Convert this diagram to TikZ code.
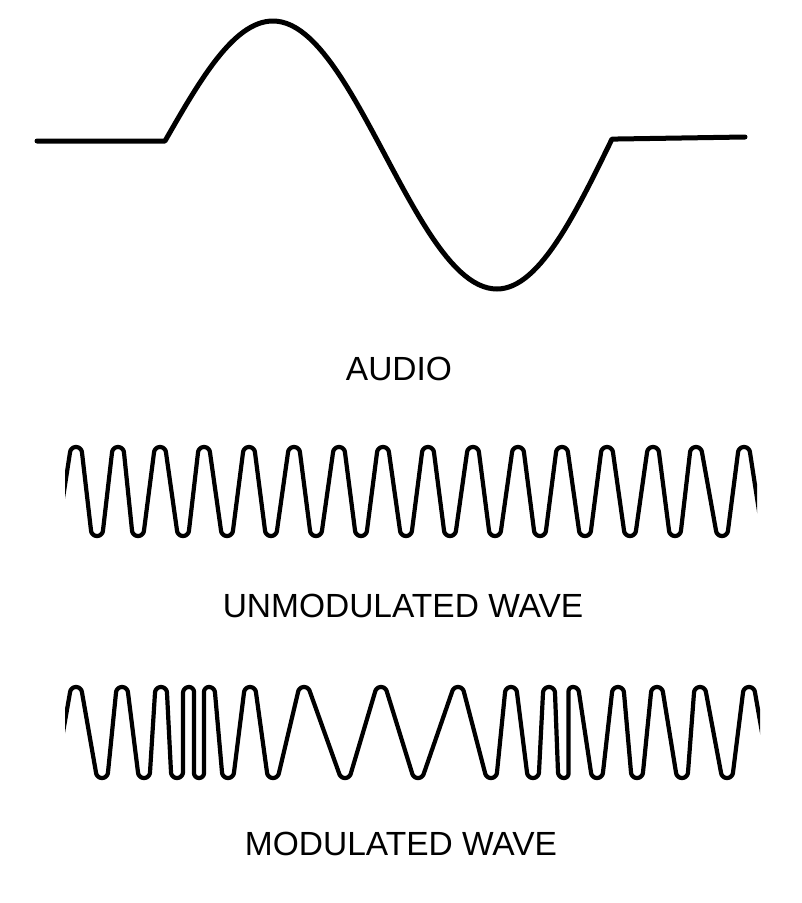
\documentclass[tikz,border=0pt]{standalone}
\usepackage{fontspec}
\setmainfont{Liberation Sans}
\usetikzlibrary{positioning, calc}

\begin{document}
\begin{tikzpicture}[x=1pt, y=-1pt,
    % Uniform look for all waveforms
    wave/.style={black, line width=4.2pt, line cap=round, line join=round},
    audio wave/.style={wave, line width=5pt},
    % Caption style
    caption/.style={font=\fontsize{33.5}{40}\selectfont, inner sep=0pt}
  ]
  \useasboundingbox (0,0) rectangle (802,903);

  % --- Largest turn radius of the carrier crests ---
  \def\Rmax{6}

  % --- One carrier: #1 = top, #2 = bottom, #3 = list of extrema pairs (starting at a trough)
  \def\carrier#1#2#3{
    \foreach \xa/\xb [count=\i] in {#3} {
      \pgfmathsetmacro\s{2*mod(\i+1,2)-1}          % +1 peak->trough, -1 trough->peak
      \pgfmathsetmacro\ya{(#1+#2)/2-\s*(#2-#1)/2}
      \pgfmathsetmacro\yb{(#1+#2)/2+\s*(#2-#1)/2}
      \pgfmathsetmacro\dx{(\xb-\xa)/2}
      \pgfmathsetmacro\R{min(\Rmax,\dx)}
      \pgfmathsetmacro\dy{\s*((#2-#1)-2*\R)/2}
      \pgfmathsetmacro\th{atan2(\dy,\dx)-\s*acos(\R/veclen(\dx,\dy))}
      \pgfmathsetmacro\aA{180+90*\s}
      \pgfmathsetmacro\tA{\th+180*(1+\s)}
      \pgfmathsetmacro\tB{\th+180}
      \pgfmathsetmacro\aB{180-90*\s}
      \draw[wave] plot[domain=\aA:\tA, samples=8, variable=\t] ({\xa+\R*cos(\t)}, {\ya+\s*\R+\R*sin(\t)})
        -- plot[domain=\tB:\aB, samples=8, variable=\t] ({\xb+\R*cos(\t)}, {\yb-\s*\R+\R*sin(\t)});
    }
  }

  % --- Audio signal (top) ---
  \def\Ya{141}   % rest level
  \draw[audio wave] (37,\Ya) -- (165,\Ya)
      -- plot[domain=0:1, samples=30, variable=\t] ({165+108*\t}, {\Ya-120*sin(90*\t)})
      -- plot[domain=0:1, samples=50, variable=\t] ({273+224*\t}, {155-134*cos(180*\t)})
      -- plot[domain=0:1, samples=30, variable=\t] ({497+115*\t}, {139+150*cos(90*\t)})
      -- (745,137);
  \node[caption] (audio) at (399,369) {AUDIO};

  % --- Unmodulated carrier ---
  \begin{scope}
    \clip (65,420) rectangle (757,560);
    \carrier{447}{536}{52/76, 76/97, 97/118, 118/138, 138/160, 160/183, 183/204,
      204/227, 227/249, 249/271, 271/294, 294/316, 316/339, 339/361, 361/383,
      383/406, 406/428, 428/450, 450/473, 473/495, 495/518, 518/540, 540/562,
      562/585, 585/607, 607/630, 630/653, 653/675, 675/696, 696/722, 722/744, 744/768}
  \end{scope}
  \node[caption] (carrier) at (403,606) {UNMODULATED WAVE};

  % --- Modulated carrier ---
  \begin{scope}
    \clip (65,660) rectangle (760,800);
    \carrier{687}{778}{50/76, 76/102, 102/122, 122/144, 144/161, 161/177, 177/189,
      189/199, 199/209, 209/228, 228/250, 250/273, 273/304, 304/345, 345/381,
      381/418, 418/458, 458/491, 491/511, 511/533, 533/549, 549/564, 564/573,
      573/597, 597/618, 618/637, 637/657, 657/682, 682/700, 700/727, 727/749, 749/775}
  \end{scope}
  \node[caption] (modulated) at (401,844) {MODULATED WAVE};

\end{tikzpicture}
\end{document}
